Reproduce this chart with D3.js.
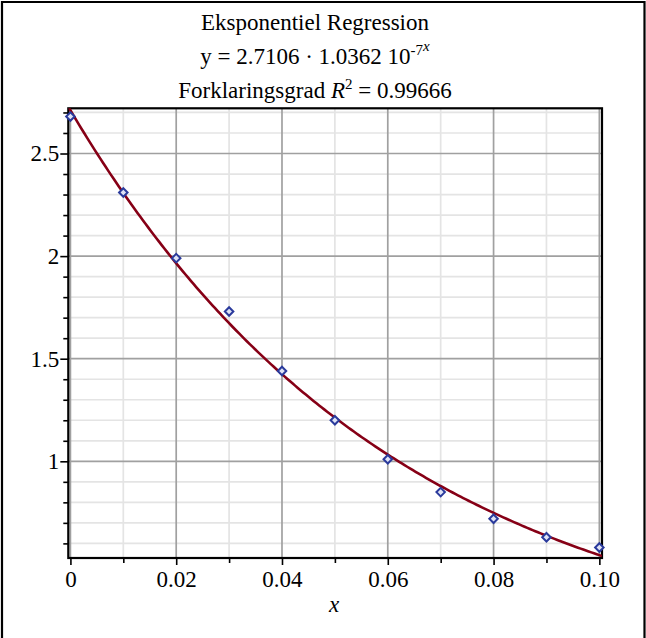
<!DOCTYPE html>
<html>
<head>
<meta charset="utf-8">
<script src="https://cdn.jsdelivr.net/npm/d3@7"></script>
<style>
  html, body { margin: 0; padding: 0; background: #fff; }
  svg { display: block; }
  text { font-family: "Liberation Serif", "Times New Roman", serif; fill: #000; }
</style>
</head>
<body>
<svg id="chart" width="646" height="638"></svg>
<script>
// ---- data ----
const xValues = [0, 0.01, 0.02, 0.03, 0.04, 0.05, 0.06, 0.07, 0.08, 0.09, 0.10];
const yValues = [2.68, 2.31, 1.99, 1.73, 1.44, 1.20, 1.01, 0.85, 0.72, 0.63, 0.58];
const fitA = [2.7106];          // coefficient
const fitB = [1.0362e-7];       // base
const xTickValues = [0, 0.02, 0.04, 0.06, 0.08, 0.10];
const xTickLabels = ["0", "0.02", "0.04", "0.06", "0.08", "0.10"];
const yTickValues = [1, 1.5, 2, 2.5];
const yTickLabels = ["1", "1.5", "2", "2.5"];
const xMinorValues = [0.01, 0.03, 0.05, 0.07, 0.09];
const yMinorValues = [0.6, 0.7, 0.8, 0.9, 1.1, 1.2, 1.3, 1.4, 1.6, 1.7, 1.8, 1.9, 2.1, 2.2, 2.3, 2.4, 2.6, 2.7];

(function () {
// ---- layout ----
const svg = d3.select("#chart");
const W = 646, H = 638;
const pL = 68.3, pR = 602, pT = 108.3, pB = 558;

const x = d3.scaleLinear().domain([-0.0004, 0.1005]).range([pL, pR]);
const y = d3.scaleLinear().domain([0.5288, 2.7203]).range([pB, pT]);

// outer frame
svg.append("path")
  .attr("d", `M2,${H + 5} L2,2 L${W - 1.5},2 L${W - 1.5},${H + 5}`)
  .attr("fill", "none").attr("stroke", "#000").attr("stroke-width", 2.2);

// grid
const grid = svg.append("g");
grid.selectAll(".vminor").data(xMinorValues).join("line")
  .attr("x1", d => x(d)).attr("x2", d => x(d)).attr("y1", pT).attr("y2", pB)
  .attr("stroke", "#e4e4e4").attr("stroke-width", 1.7);
grid.selectAll(".hminor").data(yMinorValues).join("line")
  .attr("x1", pL).attr("x2", pR).attr("y1", d => y(d)).attr("y2", d => y(d))
  .attr("stroke", "#e4e4e4").attr("stroke-width", 1.7);
grid.selectAll(".vmajor").data(xTickValues).join("line")
  .attr("x1", d => x(d)).attr("x2", d => x(d)).attr("y1", pT).attr("y2", pB)
  .attr("stroke", "#a0a0a0").attr("stroke-width", 1.7);
grid.selectAll(".hmajor").data(yTickValues).join("line")
  .attr("x1", pL).attr("x2", pR).attr("y1", d => y(d)).attr("y2", d => y(d))
  .attr("stroke", "#a0a0a0").attr("stroke-width", 1.7);

// axes (boxed)
const fontSize = 23;
const xAxis = d3.axisBottom(x)
  .tickValues(xTickValues)
  .tickFormat((d, i) => xTickLabels[i])
  .tickSize(7).tickPadding(6).tickSizeOuter(0);
const gx = svg.append("g").attr("transform", `translate(0,${pB})`).call(xAxis);
gx.select(".domain").remove();
gx.selectAll("line").attr("stroke", "#000").attr("stroke-width", 1.6);
gx.selectAll("text").attr("font-size", fontSize).style("font-family", "Liberation Serif");

const xMinorAxis = d3.axisBottom(x).tickValues(xMinorValues).tickFormat("").tickSize(5).tickSizeOuter(0);
const gxm = svg.append("g").attr("transform", `translate(0,${pB})`).call(xMinorAxis);
gxm.select(".domain").remove();
gxm.selectAll("line").attr("stroke", "#000").attr("stroke-width", 1.6);

const yAxis = d3.axisLeft(y)
  .tickValues(yTickValues)
  .tickFormat((d, i) => yTickLabels[i])
  .tickSize(8).tickPadding(1).tickSizeOuter(0);
const gy = svg.append("g").attr("transform", `translate(${pL},0)`).call(yAxis);
gy.select(".domain").remove();
gy.selectAll("line").attr("stroke", "#000").attr("stroke-width", 1.6);
gy.selectAll("text").attr("font-size", fontSize).style("font-family", "Liberation Serif");

const yMinorAxis = d3.axisLeft(y).tickValues(yMinorValues).tickFormat("").tickSize(5).tickSizeOuter(0);
const gym = svg.append("g").attr("transform", `translate(${pL},0)`).call(yMinorAxis);
gym.select(".domain").remove();
gym.selectAll("line").attr("stroke", "#000").attr("stroke-width", 1.6);

// frame box
svg.append("rect")
  .attr("x", pL).attr("y", pT).attr("width", pR - pL).attr("height", pB - pT)
  .attr("fill", "none").attr("stroke", "#000").attr("stroke-width", 2.2);

// clip
svg.append("clipPath").attr("id", "clip").append("rect")
  .attr("x", pL).attr("y", pT).attr("width", pR - pL).attr("height", pB - pT);

// regression curve
const curveX = d3.range(0, 201).map(i => x.domain()[0] + (x.domain()[1] - x.domain()[0]) * i / 200);
const line = d3.line().x(d => x(d)).y(d => y(fitA[0] * Math.pow(fitB[0], d)));
svg.append("path")
  .attr("clip-path", "url(#clip)")
  .attr("d", line(curveX))
  .attr("fill", "none").attr("stroke", "#860016").attr("stroke-width", 2.6);

// data points (diamonds)
const diamond = d3.symbol().type(d3.symbolDiamond2).size(46);
svg.append("g").selectAll("path").data(xValues).join("path")
  .attr("transform", (d, i) => `translate(${x(d)},${y(yValues[i])})`)
  .attr("d", diamond)
  .attr("fill", "#dfe3f5").attr("stroke", "#2a3a9c").attr("stroke-width", 2);

// title
const cx = 315;
svg.append("text").attr("x", cx).attr("y", 30).attr("text-anchor", "middle")
  .attr("font-size", fontSize).text("Eksponentiel Regression");

const t2 = svg.append("text").attr("x", cx).attr("y", 64).attr("text-anchor", "middle")
  .attr("font-size", fontSize);
t2.append("tspan").text("y = 2.7106 \u00B7 1.0362 10");
t2.append("tspan").attr("font-size", 15).attr("dy", -9).text("-7");
t2.append("tspan").attr("font-size", 15).attr("font-style", "italic").attr("dy", -4).text("x");

const t3 = svg.append("text").attr("x", cx).attr("y", 98).attr("text-anchor", "middle")
  .attr("font-size", fontSize);
t3.append("tspan").text("Forklaringsgrad ");
t3.append("tspan").attr("font-style", "italic").text("R");
t3.append("tspan").attr("font-size", 15).attr("dy", -9).text("2");
t3.append("tspan").attr("dy", 9).text(" = 0.99666");

// x axis label
svg.append("text").attr("x", (pL + pR) / 2 - 1).attr("y", 612).attr("text-anchor", "middle")
  .attr("font-size", fontSize).attr("font-style", "italic").text("x");
})();
</script>
</body>
</html>
